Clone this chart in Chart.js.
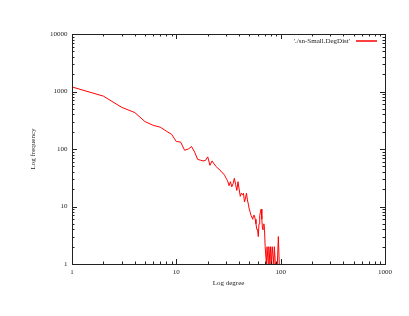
<!DOCTYPE html>
<html>
<head>
<meta charset="utf-8">
<script src="https://cdn.jsdelivr.net/npm/chart.js@4/dist/chart.umd.min.js"></script>
<style>
html,body{margin:0;padding:0;background:#fff;}
#wrap{width:409px;height:316px;position:relative;}
</style>
</head>
<body>
<div id="wrap"><canvas id="c" width="409" height="316"></canvas></div>
<script>
const seriesLabel = "'./sn-Small.DegDist'";
const degrees = [1,2,3,4,5,6,7,8,9,10,11,12,13,14,15,16,17,18,19,20,
  21,22,23,24,25,26,27,28,29,30,31,32,33,34,35,36,37,38,39,40,
  41,42,43,44,45,46,47,48,49,50,51,52,53,54,55,56,57,58,59,60,
  61,62,63,64,65,66,67,68,69,70,71,73,74,76,77,79,80,82,83,86,
  87,89,93,95,97];
const counts = [1200,830,530,430,300,258,240,205,180,135,132,95,100,110,88,66,64,62,63,73,
  52,62,55,50,46,44,40,38,35,31,28,23,27,22,25,31,24,19,27,20,
  15,17,16,17,12,14,17,13,11,9,8,7,7,6,7,7,6,5,4,4,
  3,5,7,8,9,6,4,4,5,4,2,1,2,1,2,1,2,1,2,1,
  2,1,1,3,1];
const xTicks = [1,10,100,1000];
const yTicks = [1,10,100,1000,10000];
const xTitle = 'Log degree';
const yTitle = 'Log frequency';

const FONT = "'Liberation Serif', 'DejaVu Serif', serif";

const frame = {
  id: 'frame',
  afterDraw(chart) {
    const ctx = chart.ctx;
    const a = chart.chartArea;
    const xs = chart.scales.x, ys = chart.scales.y;
    ctx.save();
    ctx.strokeStyle = '#222';
    ctx.lineWidth = 1;
    ctx.beginPath();
    for (let e = 0; e < 3; e++) {
      for (let m = 1; m <= 9; m++) {
        const v = m * Math.pow(10, e);
        const px = Math.round(xs.getPixelForValue(v)) + 0.5;
        const len = m === 1 ? 5 : 2.5;
        ctx.moveTo(px, a.bottom); ctx.lineTo(px, a.bottom - len);
        ctx.moveTo(px, a.top); ctx.lineTo(px, a.top + len);
      }
    }
    for (let e = 0; e < 4; e++) {
      for (let m = 1; m <= 9; m++) {
        const v = m * Math.pow(10, e);
        const py = Math.round(ys.getPixelForValue(v)) + 0.5;
        const len = m === 1 ? 5 : 2.5;
        ctx.moveTo(a.left, py); ctx.lineTo(a.left + len, py);
        ctx.moveTo(a.right, py); ctx.lineTo(a.right - len, py);
      }
    }
    ctx.stroke();
    ctx.strokeRect(Math.round(a.left) + 0.5, Math.round(a.top) + 0.5,
      Math.round(a.right - a.left), Math.round(a.bottom - a.top));
    ctx.font = '7px ' + FONT;
    ctx.fillStyle = '#222';
    ctx.textAlign = 'right';
    ctx.textBaseline = 'middle';
    ctx.fillText(seriesLabel, 350, 41);
    ctx.strokeStyle = '#ff0000';
    ctx.lineWidth = 1.5;
    ctx.beginPath();
    ctx.moveTo(356, 41); ctx.lineTo(377, 41);
    ctx.stroke();
    ctx.restore();
  }
};

new Chart(document.getElementById('c'), {
  type: 'scatter',
  data: {
    datasets: [{
      label: seriesLabel,
      data: degrees.map((d, i) => ({x: d, y: counts[i]})),
      showLine: true,
      borderColor: '#ff0000',
      borderWidth: 1,
      pointRadius: 0,
      tension: 0,
      clip: false
    }]
  },
  options: {
    responsive: false,
    animation: false,
    devicePixelRatio: 1,
    layout: { padding: { left: 0, right: 24, top: 34, bottom: 0 } },
    plugins: { legend: { display: false }, tooltip: { enabled: false } },
    scales: {
      x: {
        type: 'logarithmic',
        min: 1, max: 1000,
        afterBuildTicks(s) { s.ticks = xTicks.map(v => ({value: v})); },
        afterFit(s) { s.height = 52; },
        grid: { display: false, drawTicks: false },
        border: { display: false },
        ticks: {
          autoSkip: false, maxRotation: 0, padding: 4,
          color: '#222', font: { family: FONT, size: 7 },
          callback: v => String(v)
        },
        title: { display: true, text: xTitle, color: '#222',
          font: { family: FONT, size: 7 }, padding: { top: 0, bottom: 29 } }
      },
      y: {
        type: 'logarithmic',
        min: 1, max: 10000,
        afterBuildTicks(s) { s.ticks = yTicks.map(v => ({value: v})); },
        afterFit(s) { s.width = 72; },
        grid: { display: false, drawTicks: false },
        border: { display: false },
        ticks: {
          autoSkip: false, padding: 4.5,
          color: '#222', font: { family: FONT, size: 7 },
          callback: v => String(v)
        },
        title: { display: true, text: yTitle, color: '#222',
          font: { family: FONT, size: 7 }, padding: { top: 29, bottom: 0 } }
      }
    }
  },
  plugins: [frame]
});
</script>
</body>
</html>
